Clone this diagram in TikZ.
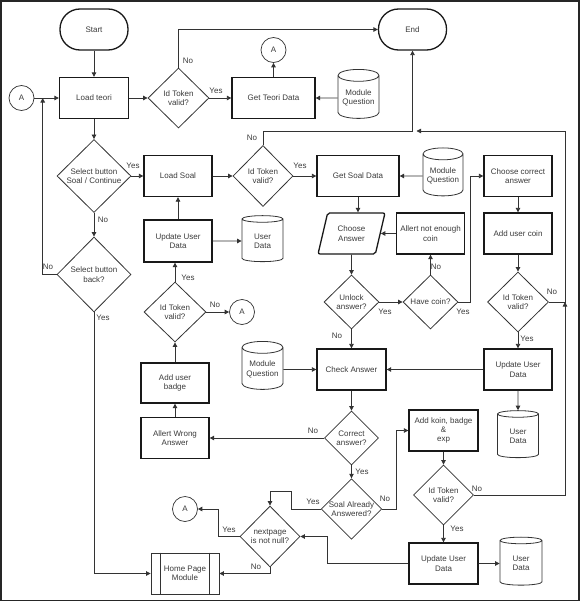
\documentclass[tikz,border=0pt]{standalone}
\usepackage{fontspec}
\setmainfont{Liberation Sans}
\usetikzlibrary{arrows.meta, positioning, shapes.geometric, calc}
\definecolor{fline}{HTML}{333333}
\definecolor{ftext}{HTML}{3A3A3A}
\tikzset{
  procbox/.style={draw=black!90, line width=1.3pt, minimum width=68pt, minimum height=41pt,
                  inner sep=1pt, align=center},
  termbox/.style={draw=black!90, line width=1.3pt, rounded corners=20pt, minimum width=68pt,
                  minimum height=41pt, align=center},
  decbox/.style={diamond, draw=fline, line width=0.8pt, inner sep=0pt, align=center},
  dbbox/.style={cylinder, shape border rotate=90, aspect=0.35, draw=fline, line width=0.8pt,
                inner sep=1pt, align=center, minimum width=41pt, minimum height=48pt},
  iobox/.style={trapezium, trapezium left angle=71, trapezium right angle=109,
                trapezium stretches=true, draw=black!90, line width=1.3pt, rounded corners=2pt,
                minimum width=67pt, minimum height=41pt, inner sep=1pt, align=center},
  subbox/.style={draw=fline, line width=0.8pt, minimum width=68pt, minimum height=41pt, align=center},
  conbox/.style={circle, draw=fline, line width=0.7pt, minimum size=25pt, inner sep=0pt},
}

\begin{document}
\begin{tikzpicture}[x=1pt, y=-1pt, every node/.style={font=\fontsize{8}{9.4}\selectfont, text=ftext},
   ar/.style={-{Triangle[length=4.5pt, width=4.5pt]}, line width=0.8pt, draw=fline},
   lb/.style={inner sep=0pt}]
  \useasboundingbox (0,0) rectangle (582,602);
  \draw[line width=1.5pt, black!85] (1.2,1.2) rectangle (579,600.5);

  \node[termbox] (start) at (94,29.5) {Start};
  \node[termbox] (fin) at (412.5,29.5) {End};
  \node[procbox, minimum width=69pt] (lteori) at (94,98) {Load teori};
  \node[conbox] (ca1) at (21.5,98) {A};
  \node[decbox, minimum width=61pt, minimum height=60pt] (tk1) at (178.5,98) {Id Token\\valid?};
  \node[procbox, minimum width=83pt] (gteori) at (273.5,98) {Get Teori Data};
  \node[conbox] (ca2) at (273.5,50) {A};
  \node[dbbox, minimum height=49pt] (mq1) at (358.5,98) {Module\\Question};

  \node[decbox, minimum width=74pt, minimum height=73pt] (selsoal) at (94,176) {Select button\\Soal / Continue};
  \node[procbox] (lsoal) at (178,176) {Load Soal};
  \node[decbox, minimum width=60pt, minimum height=61pt] (tk2) at (263,176) {Id Token\\valid?};
  \node[procbox, minimum width=82pt] (gsoal) at (358,176) {Get Soal Data};
  \node[dbbox, minimum width=40pt] (mq2) at (443,176) {Module\\Question};
  \node[procbox] (ccorrect) at (518,176) {Choose correct\\answer};

  \node[procbox, minimum height=42pt] (uud1) at (178,241) {Update User\\Data};
  \node[dbbox, minimum height=46pt] (ud1) at (262.5,241) {User\\Data};
  \node[iobox] (chans) at (351.5,233.5) {Choose\\Answer};
  \node[procbox] (nocoin) at (430.5,233.5) {Allert not enough\\coin};
  \node[procbox] (addcoin) at (518,233.5) {Add user coin};

  \node[decbox, minimum width=74pt, minimum height=75pt] (selback) at (94,274.5) {Select button\\back?};
  \node[decbox, minimum width=62pt, minimum height=60pt] (tk4) at (175,312) {Id Token\\valid?};
  \node[conbox] (ca3) at (242,312) {A};
  \node[decbox, minimum width=55pt, minimum height=54pt] (unlock) at (351.5,302) {Unlock\\answer?};
  \node[decbox, minimum width=55pt, minimum height=54pt] (havecoin) at (430.5,302) {Have coin?};
  \node[decbox, minimum width=61pt, minimum height=60pt] (tk3) at (518,302) {Id Token\\valid?};

  \node[procbox, minimum height=40pt] (badge) at (175,383) {Add user\\badge};
  \node[dbbox] (mq3) at (262.5,369.5) {Module\\Question};
  \node[procbox, minimum width=69pt] (check) at (351.5,369.5) {Check Answer};
  \node[procbox] (uud2) at (518,369.5) {Update User\\Data};

  \node[procbox] (wrong) at (175,438) {Allert Wrong\\Answer};
  \node[decbox, minimum width=54pt, minimum height=54pt] (correct) at (351.5,438) {Correct\\answer?};
  \node[procbox, minimum width=69pt] (addkoin) at (443.5,430.5) {Add koin, badge\\\&\\exp};
  \node[dbbox, minimum height=47pt] (ud2) at (518,436.5) {User\\Data};

  \node[decbox, minimum width=60pt, minimum height=60pt] (already) at (351.5,509) {Soal Already\\Answered?};
  \node[decbox, minimum width=60pt, minimum height=60pt] (tk5) at (443.5,495) {Id Token\\valid?};
  \node[conbox] (ca4) at (185,509) {A};
  \node[decbox, minimum width=60pt, minimum height=61pt] (nextpg) at (270,536.5) {nextpage\\is not null?};
  \node[subbox] (home) at (185,573.5) {Home Page\\Module};
  \node[procbox, minimum width=69pt] (uud3) at (443.5,563.5) {Update User\\Data};
  \node[dbbox, minimum width=42pt] (ud3) at (521,563.5) {User\\Data};
  \draw[line width=0.8pt, fline] ([xshift=10pt]home.north west) -- ([xshift=10pt]home.south west)
    ([xshift=-10pt]home.north east) -- ([xshift=-10pt]home.south east);

  \coordinate (jA) at (42.7,98);
  \coordinate (jE) at (412.5,131);
  \coordinate (jR) at (565,131);

  \draw[ar] (start) -- (lteori);
  \draw[ar] (ca1) -- (lteori);
  \draw[ar] (selback.west) -| (jA);
  \draw[ar] (lteori) -- (tk1);
  \draw[ar] (tk1.north) |- (fin.west);
  \draw[ar] (tk1) -- (gteori);
  \draw[ar] (gteori) -- (ca2);
  \draw[ar] (mq1) -- (gteori);
  \draw[ar] (lteori) -- (selsoal);
  \draw[ar] (selsoal) -- (lsoal);
  \draw[ar] (lsoal) -- (tk2);
  \draw[ar] (tk2) -- (gsoal);
  \draw[ar] (tk2.north) |- (jE) -- (fin.south);
  \draw[ar] (tk3.east) -| (jR) -- ([xshift=4pt]jE);
  \draw[ar] (tk5.east) -| (jR |- tk3.east);
  \draw[ar] (mq2) -- (gsoal);
  \draw[ar] (gsoal.south) -- (gsoal.south |- chans.north);
  \draw[ar] (nocoin) -- (chans);
  \draw[ar] (chans) -- (unlock);
  \draw[ar] (unlock) -- (havecoin);
  \draw[ar] (havecoin) -- (nocoin);
  \draw[ar] (havecoin.east) -- ++(12,0) |- (ccorrect.west);
  \draw[ar] (ccorrect) -- (addcoin);
  \draw[ar] (addcoin) -- (tk3);
  \draw[ar] (tk3) -- (uud2);
  \draw[ar] (uud2) -- (check);
  \draw[ar] (uud2) -- (ud2);
  \draw[ar] (unlock) -- (check);
  \draw[ar] (mq3) -- (check);
  \draw[ar] (check) -- (correct);
  \draw[ar] (correct) -- (wrong);
  \draw[ar] (wrong) -- (badge);
  \draw[ar] (badge) -- (tk4);
  \draw[ar] (tk4.north) -- (tk4.north |- uud1.south);
  \draw[ar] (tk4) -- (ca3);
  \draw[ar] (uud1) -- (lsoal);
  \draw[ar] (uud1) -- (ud1);
  \draw[ar] (selsoal) -- (selback);
  \draw[ar] (selback.south) |- (home.west);
  \draw[ar] (correct) -- (already);
  \draw[ar] (already.east) -- ++(14,0) |- (addkoin.west);
  \draw[ar] (addkoin) -- (tk5);
  \draw[ar] (tk5) -- (uud3);
  \draw[ar] (uud3) -- (ud3);
  \draw[ar] (already.west) -- ++(-29,0) |- ($(nextpg.north)+(0,-14)$) -- (nextpg.north);
  \draw[ar] (uud3.west) -- ++(-81,0) |- (nextpg.east);
  \draw[ar] (nextpg.west) -- ++(-21,0) |- (ca4.east);
  \draw[ar] (nextpg.south) |- (home.east);

  \node[lb] (n1) at (188,61) {No};
  \node[lb] (y1) at (216,91) {Yes};
  \node[lb] (y2) at (133,166) {Yes};
  \node[lb] (n2) at (103,220) {No};
  \node[lb] (n3) at (252,138) {No};
  \node[lb] (y3) at (300,166) {Yes};
  \node[lb] (n4) at (48,267) {No};
  \node[lb] (y4) at (103,318) {Yes};
  \node[lb] (y5) at (188,278) {Yes};
  \node[lb] (n5) at (215,305) {No};
  \node[lb] (y6) at (385,312) {Yes};
  \node[lb] (n6) at (436,267) {No};
  \node[lb] (y7) at (463,312) {Yes};
  \node[lb] (n7) at (552,292) {No};
  \node[lb] (y8) at (527,339) {Yes};
  \node[lb] (n8) at (337,336) {No};
  \node[lb] (n9) at (313,431) {No};
  \node[lb] (y9) at (362,472) {Yes};
  \node[lb] (y10) at (313,502) {Yes};
  \node[lb] (n10) at (385,499) {No};
  \node[lb] (n11) at (477,489) {No};
  \node[lb] (y11) at (457,529) {Yes};
  \node[lb] (y12) at (229,530) {Yes};
  \node[lb] (n12) at (256,567) {No};
\end{tikzpicture}
\end{document}
